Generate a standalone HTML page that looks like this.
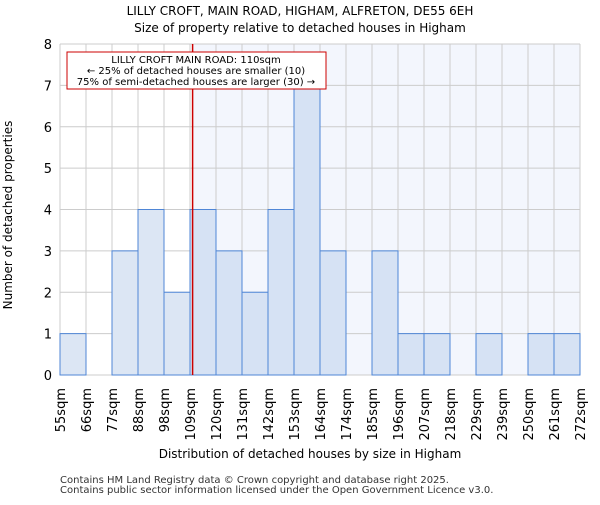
<!DOCTYPE html>
<html><head><meta charset="utf-8"><style>body{margin:0;background:#fff}svg{font-family:"DejaVu Sans","Liberation Sans",sans-serif}</style></head>
<body>
<svg id="chart" width="600" height="500" viewBox="0 0 600 500">
<text x="300" y="15" text-anchor="middle" font-size="12">LILLY CROFT, MAIN ROAD, HIGHAM, ALFRETON, DE55 6EH</text>
<text x="300" y="32" text-anchor="middle" font-size="12">Size of property relative to detached houses in Higham</text>
<g id="plot"></g>
<text x="310" y="458" text-anchor="middle" font-size="12">Distribution of detached houses by size in Higham</text>
<text transform="translate(12,215) rotate(-90)" text-anchor="middle" font-size="12">Number of detached properties</text>
<text x="60" y="483" font-size="10" fill="#333">Contains HM Land Registry data © Crown copyright and database right 2025.</text>
<text x="60" y="493" font-size="10" fill="#333">Contains public sector information licensed under the Open Government Licence v3.0.</text>
</svg>
<script>
const categories=["55sqm","66sqm","77sqm","88sqm","98sqm","109sqm","120sqm","131sqm","142sqm","153sqm","164sqm","174sqm","185sqm","196sqm","207sqm","218sqm","229sqm","239sqm","250sqm","261sqm","272sqm"];
const counts=[1,0,3,4,2,4,3,2,4,7,3,0,3,1,1,0,1,0,1,1];
const yTicks=[0,1,2,3,4,5,6,7,8];
const markerIndex=5.1;
const NS="http://www.w3.org/2000/svg";
const L=60,R=580,T=44,B=375,yMax=8;
const bw=(R-L)/counts.length;
const x=i=>L+i*bw, y=v=>B-(v/yMax)*(B-T);
const g=document.getElementById('plot');
function mk(t,a,p){const e=document.createElementNS(NS,t);for(const k in a)e.setAttribute(k,a[k]);(p||g).appendChild(e);return e;}
const mx=x(5)+2;
let e=mk('rect',{x:mx,y:T,width:R-mx,height:B-T,fill:'#f3f6fd'});


for(let i=0;i<=counts.length;i++){e=mk('line',{x1:x(i),x2:x(i),y1:T,y2:B,stroke:'#ccc'});

}
yTicks.forEach(t=>{e=mk('line',{x1:L,x2:R,y1:y(t),y2:y(t),stroke:'#ccc'});


e=mk('text',{x:L-8,y:y(t)+5,'text-anchor':'end','font-size':13});e.textContent=t;

});
counts.forEach((v,i)=>{if(!v)return;e=mk('rect',{x:x(i),y:y(v),width:bw,height:y(0)-y(v),fill:i<5?'#dce6f4':'#d6e2f4',stroke:'#4f86d6','stroke-width':1});

});
categories.forEach((c,i)=>{e=mk('text',{transform:`translate(${x(i)+5},388) rotate(-90)`,'text-anchor':'end','font-size':13});e.textContent=c;

});
const rx=x(markerIndex);
e=mk('line',{x1:rx,x2:rx,y1:T,y2:B,stroke:'#cc0000','stroke-width':1.5});


e=mk('rect',{x:67,y:52,width:259,height:37,fill:'#fff',stroke:'#cc0000'});


["LILLY CROFT MAIN ROAD: 110sqm","← 25% of detached houses are smaller (10)","75% of semi-detached houses are larger (30) →"].forEach((s,k)=>{e=mk('text',{x:196,y:63+k*11,'text-anchor':'middle','font-size':10});e.textContent=s;

});
</script>
</body></html>
